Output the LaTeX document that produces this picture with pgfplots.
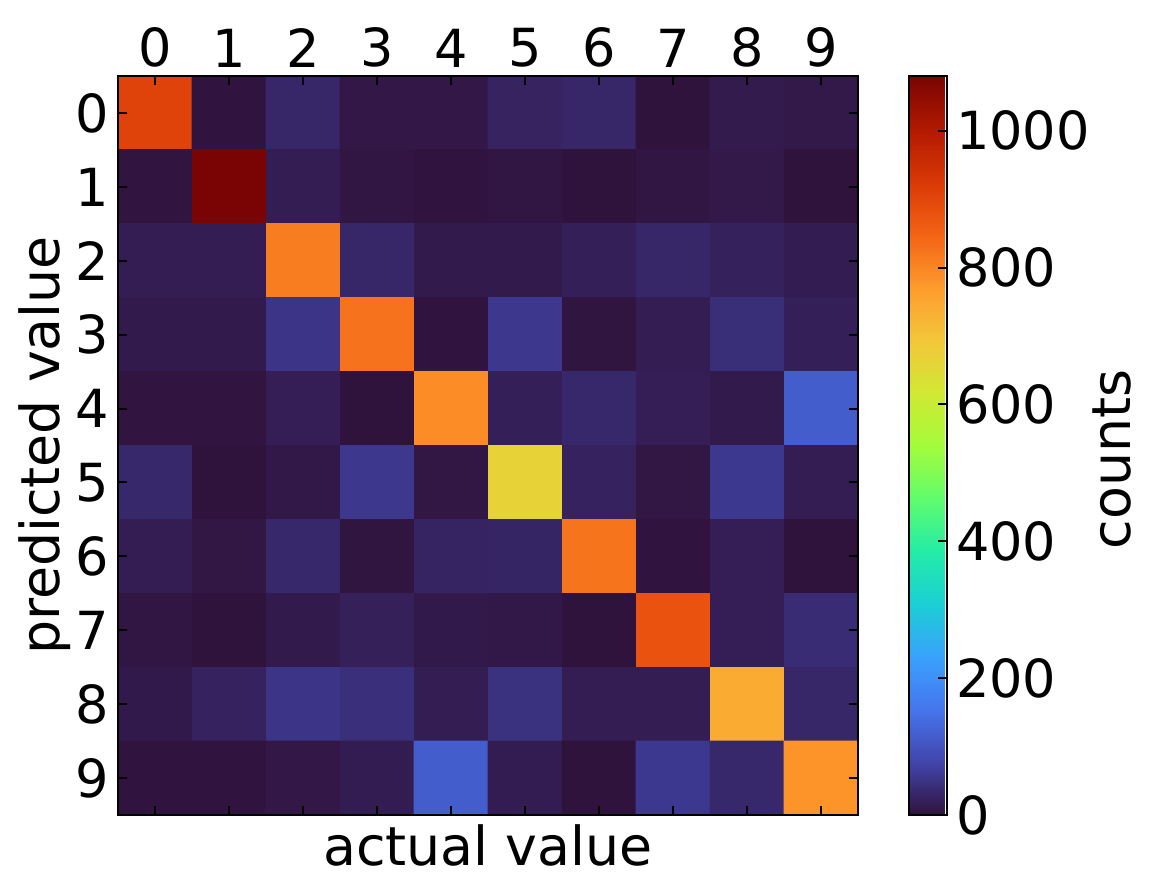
\documentclass[border=0pt]{standalone}
\usepackage{fontspec}
\setmainfont{DejaVu Sans}
\usepackage{pgfplots}
\usepackage{pgfplotstable}
\pgfplotsset{compat=1.18}

% turbo colormap, 15 equally spaced stops
\pgfplotsset{colormap={turbo}{
  rgb255=(48,18,59) rgb255=(65,69,171) rgb255=(70,117,237) rgb255=(57,162,252)
  rgb255=(27,207,212) rgb255=(36,236,166) rgb255=(97,252,108) rgb255=(164,252,59)
  rgb255=(209,232,52) rgb255=(243,198,58) rgb255=(254,155,45) rgb255=(243,99,21)
  rgb255=(217,56,6) rgb255=(177,25,1) rgb255=(122,4,3)}}

% confusion matrix: x = actual value, y = predicted value, c = counts
\pgfplotstableread{
x y c
0 0 905
1 0 2
2 0 31
3 0 8
4 0 8
5 0 25
6 0 31
7 0 1
8 0 13
9 0 10
0 1 3
1 1 1080
2 1 16
3 1 6
4 1 2
5 1 6
6 1 1
7 1 6
8 1 10
9 1 1
0 2 16
1 2 16
2 2 813
3 2 32
4 2 12
5 2 12
6 2 20
7 2 31
8 2 22
9 2 15
0 3 12
1 3 12
2 3 52
3 3 827
4 3 2
5 3 57
6 3 4
7 3 16
8 3 42
9 3 20
0 4 3
1 4 3
2 4 18
3 4 1
4 4 792
5 4 20
6 4 33
7 4 18
8 4 12
9 4 116
0 5 33
1 5 1
2 5 9
3 5 57
4 5 7
5 5 666
6 5 24
7 5 7
8 5 58
9 5 16
0 6 16
1 6 7
2 6 33
3 6 4
4 6 26
5 6 29
6 6 825
7 6 2
8 6 18
9 6 1
0 7 5
1 7 1
2 7 12
3 7 21
4 7 11
5 7 9
6 7 1
7 7 877
8 7 18
9 7 39
0 8 11
1 8 24
2 8 52
3 8 44
4 8 16
5 8 47
6 8 16
7 8 16
8 8 741
9 8 32
0 9 2
1 9 2
2 9 8
3 9 15
4 9 116
5 9 15
6 9 1
7 9 58
8 9 33
9 9 781
}\cmdata

\begin{document}
\begin{tikzpicture}
\begin{axis}[
    name=main,
    scale only axis,
    width=296pt, height=295.6pt,
    xmin=-0.5, xmax=9.5, ymin=-0.5, ymax=9.5,
    y dir=reverse,
    enlargelimits=false,
    axis on top,
    colormap name=turbo,
    point meta min=0, point meta max=1080,
    xtick={0,...,9}, ytick={0,...,9},
    xtick pos=both, ytick pos=both,
    xticklabel pos=upper, yticklabel pos=left,
    tick align=inside,
    major tick length=3.6pt,
    tick style={black, line width=0.8pt},
    axis line style={line width=0.8pt},
    /pgf/number format/assume math mode=true,
    tick label style={font=\fontsize{21}{25}\selectfont},
    label style={font=\fontsize{21.5}{25}\selectfont},
    xlabel={actual value},
    xlabel style={at={(axis description cs:0.5,-0.041)}, anchor=center},
    ylabel={predicted value},
    ylabel style={at={(axis description cs:-0.099,0.5)}, anchor=center},
    colorbar,
    colorbar style={
        at={(parent axis.north east)}, anchor=north west,
        xshift=12pt,
        width=15.2pt,
        ytick={0,200,...,1000},
        ytick pos=right, yticklabel pos=right,
        tick align=inside,
        major tick length=3.6pt,
        tick style={black, line width=0.8pt},
        axis line style={line width=0.8pt},
        /pgf/number format/assume math mode=true,
        /pgf/number format/1000 sep={},
        tick label style={font=\fontsize{21}{25}\selectfont},
        ylabel={counts},
        ylabel style={font=\fontsize{21.5}{25}\selectfont,
            at={(axis description cs:5.34,0.5)}, anchor=center, xshift=-5.6pt},
    },
]
\addplot[matrix plot*, mesh/cols=10, point meta=explicit]
    table[x=x, y=y, meta=c] {\cmdata};
\end{axis}
\pgfresetboundingbox
\path[use as bounding box] ([shift={(-47.2pt,-31.2pt)}]main.south west)
    rectangle ([shift={(415.6pt,326pt)}]main.south west);
\end{tikzpicture}
\end{document}
